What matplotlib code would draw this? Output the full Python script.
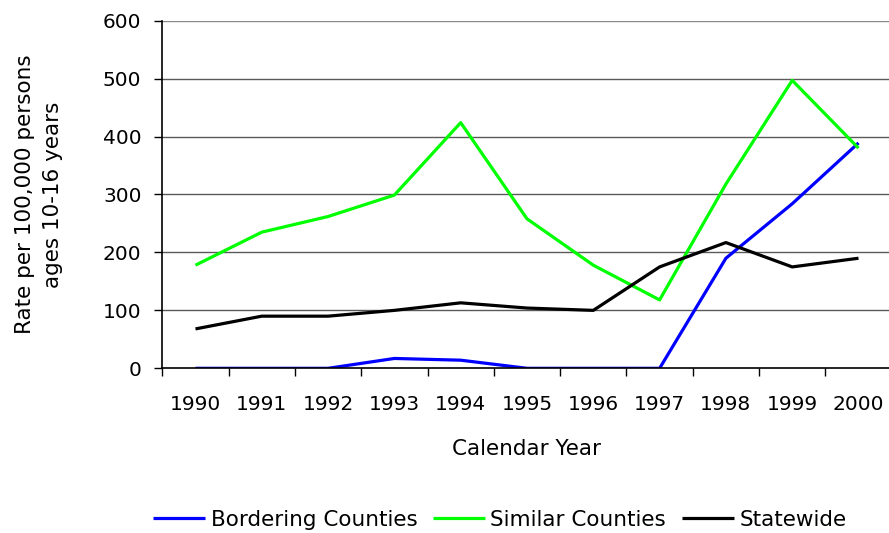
import matplotlib
matplotlib.use("Agg")
import matplotlib.pyplot as plt
import numpy as np

years = ["1990", "1991", "1992", "1993", "1994", "1995", "1996", "1997", "1998", "1999", "2000"]
bordering = [0, 0, 0, 17, 14, 0, 0, 0, 190, 284, 389]
similar = [178, 235, 262, 299, 424, 258, 178, 118, 318, 497, 380]
statewide = [68, 90, 90, 100, 113, 104, 100, 175, 217, 175, 190]

plt.rcParams['font.family'] = ['DejaVu Sans']
FS_TICK = 14.5
FS_LAB = 15.5

fig = plt.figure(figsize=(8.89, 5.33), dpi=100)
ax = fig.add_axes([0.1826, 0.309, 1.003 - 0.1826, 0.9612 - 0.309])

x = np.arange(len(years))
l1, = ax.plot(x, bordering, color='#0000FF', lw=2.3, label='Bordering Counties', solid_capstyle='butt')
l2, = ax.plot(x, similar, color='#00FF00', lw=2.3, label='Similar Counties', solid_capstyle='butt')
l3, = ax.plot(x, statewide, color='#000000', lw=2.3, label='Statewide', solid_capstyle='butt')

ax.set_xlim(-0.5, len(years) - 0.5)
ax.set_ylim(0, 600)
ax.set_yticks(np.arange(0, 601, 100))
ax.tick_params(axis='y', direction='out', length=6, width=1, labelsize=FS_TICK, pad=9)
for yv in range(100, 601, 100):
    ax.axhline(yv, color='#8a8a8a' if yv == 600 else '#5a5a5a', lw=1, zorder=0)

ax.set_xticks(np.arange(-0.5, len(years), 1.0))
ax.set_xticklabels([])
ax.tick_params(axis='x', which='major', direction='out', length=6, width=1)
ax.set_xticks(x, minor=True)
ax.set_xticklabels(years, minor=True)
ax.tick_params(axis='x', which='minor', length=0, labelsize=FS_TICK, pad=19)

for s in ['top', 'right']:
    ax.spines[s].set_visible(False)
ax.spines['left'].set_linewidth(1.2)
ax.spines['bottom'].set_linewidth(1.2)

ax.set_xlabel('Calendar Year', fontsize=FS_LAB, labelpad=18)
ax.set_ylabel('Rate per 100,000 persons\nages 10-16 years', fontsize=FS_LAB, labelpad=29, linespacing=1.45)

fig.legend(handles=[l1, l2, l3], loc='center', bbox_to_anchor=(500 / 889, 1 - 520 / 533),
           ncol=3, frameon=False, fontsize=FS_LAB, handlelength=2.4, handletextpad=0.25,
           columnspacing=0.75)

fig.savefig('out.png', dpi=100)
